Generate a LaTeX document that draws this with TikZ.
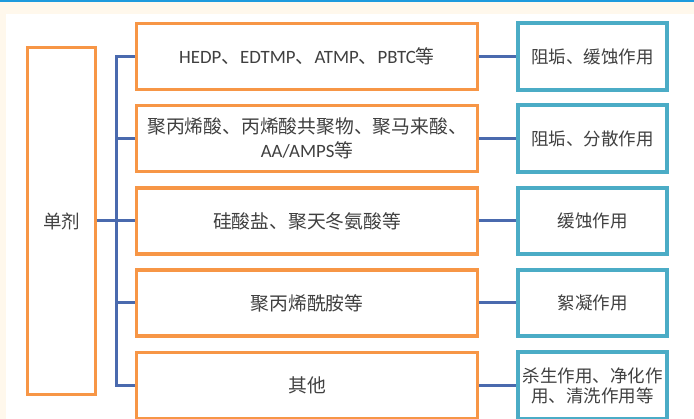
\documentclass[tikz,border=0pt]{standalone}
\usepackage{fontspec}
\setmainfont{Carlito}
\newfontfamily\cjk{Noto Sans CJK SC}
\newcommand\zh[1]{{\cjk #1}}
\definecolor{orangeb}{HTML}{F79646}
\definecolor{tealb}{HTML}{4BACC6}
\definecolor{connb}{HTML}{4A6AAE}
\definecolor{creamb}{HTML}{FFF8EC}
\definecolor{topb}{HTML}{1E9BDD}
\definecolor{txtc}{HTML}{404040}
\begin{document}
\begin{tikzpicture}[x=1pt,y=-1pt,
  midbox/.style={draw=orangeb,line width=2.4pt,fill=white,minimum width=340pt,minimum height=65pt,inner sep=0pt,align=center,text=txtc,font=\fontsize{18.8}{24}\selectfont},
  leftbox/.style={draw=orangeb,line width=2.4pt,fill=white,minimum width=67pt,minimum height=346pt,inner sep=0pt,text=txtc,font=\fontsize{18.5}{24}\selectfont},
  effbox/.style={draw=tealb,line width=2.6pt,fill=white,minimum width=147pt,minimum height=65pt,inner sep=0pt,align=center,text=txtc,font=\fontsize{17.5}{22}\selectfont},
  conn/.style={draw=connb,line width=3pt}]
\useasboundingbox (0,0) rectangle (694,419);
\fill[creamb] (0,0) rectangle (694,419);
\fill[white] (6,14) rectangle (694,419);
\fill[topb] (0,0) rectangle (694,1.6);

\node[leftbox] (L) at (61.5,221) {\zh{单剂}};

\node[midbox] (m1) at (307,56.5) {HEDP\zh{、}EDTMP\zh{、}ATMP\zh{、}PBTC\zh{等}};
\node[midbox] (m2) at (307,138.5) {\zh{聚丙烯酸、丙烯酸共聚物、聚马来酸、}\\AA/AMPS\zh{等}};
\node[midbox] (m3) at (307,221) {\zh{硅酸盐、聚天冬氨酸等}};
\node[midbox] (m4) at (307,303) {\zh{聚丙烯酰胺等}};
\node[midbox] (m5) at (307,385.5) {\zh{其他}};

\node[effbox] (e1) at (592.5,56.5) {\zh{阻垢、缓蚀作用}};
\node[effbox] (e2) at (592.5,138.5) {\zh{阻垢、分散作用}};
\node[effbox] (e3) at (592.5,221) {\zh{缓蚀作用}};
\node[effbox] (e4) at (592.5,303) {\zh{絮凝作用}};
\node[effbox] (e5) at (592.5,385.5) {\zh{杀生作用、净化作}\\[-2pt]\zh{用、清洗作用等}};

\coordinate (t1) at (116,56.5);
\coordinate (t5) at (116,385.5);
\draw[conn] (m1.west) -- (t1) -- (t5) -- (m5.west);
\draw[conn] (m2.west) -- (m2.west -| t1);
\draw[conn] (m4.west) -- (m4.west -| t1);
\draw[conn] (L.east) -- (m3.west);
\draw[conn] (m1.east) -- (e1.west);
\draw[conn] (m2.east) -- (e2.west);
\draw[conn] (m3.east) -- (e3.west);
\draw[conn] (m4.east) -- (e4.west);
\draw[conn] (m5.east) -- (e5.west);
% redraw box frames over the line ends
\foreach \n in {m1,m2,m3,m4,m5}{\draw[orangeb,line width=2.4pt] (\n.south west) rectangle (\n.north east);}
\draw[orangeb,line width=2.4pt] (L.south west) rectangle (L.north east);
\foreach \n in {e1,e2,e3,e4,e5}{\draw[tealb,line width=2.6pt] (\n.south west) rectangle (\n.north east);}
\end{tikzpicture}
\end{document}
